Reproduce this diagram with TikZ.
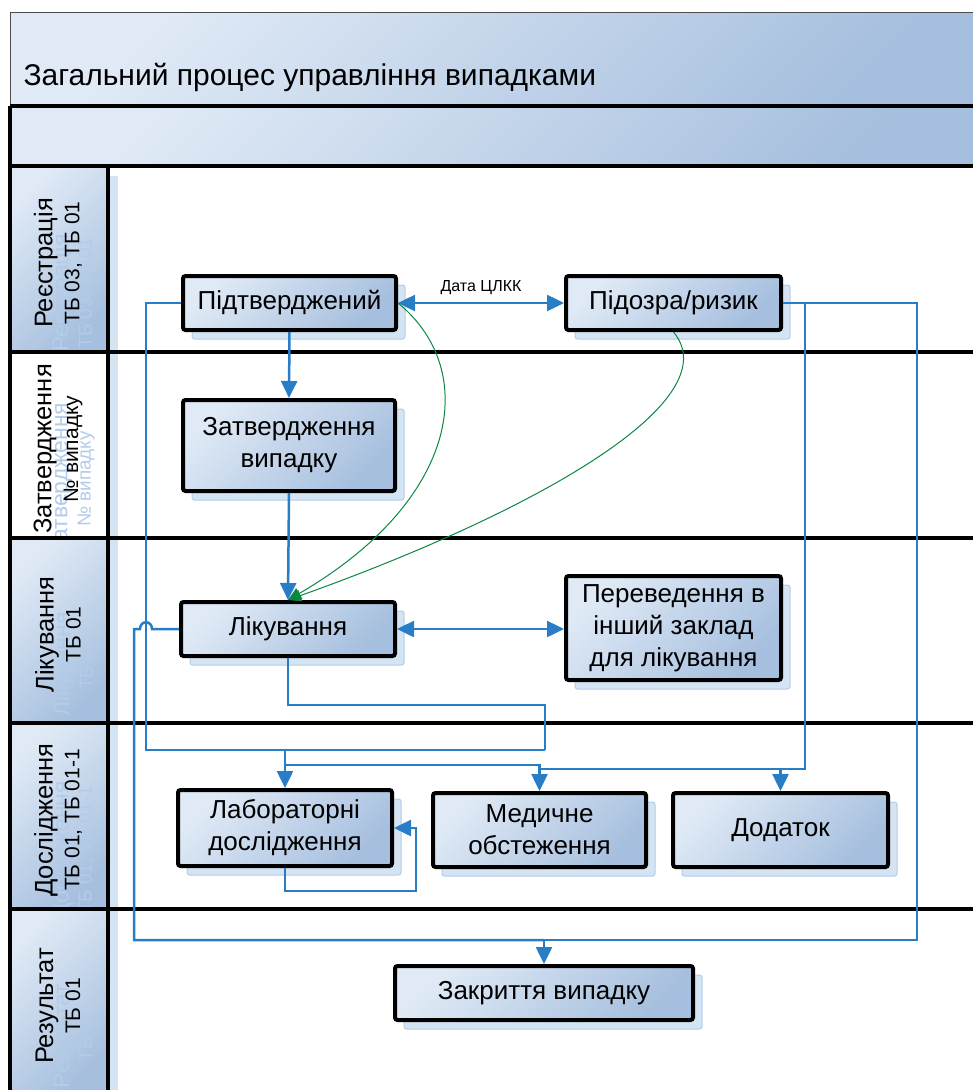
\documentclass[tikz,border=0pt]{standalone}
\usepackage{fontspec}
\setmainfont{Liberation Sans}
\usetikzlibrary{arrows.meta}
\usetikzlibrary{shadows}

\definecolor{flowblue}{RGB}{40,125,198}
\definecolor{curvegreen}{RGB}{10,135,65}
\definecolor{boxlight}{RGB}{224,234,246}
\definecolor{boxdark}{RGB}{166,191,222}
\definecolor{shadowblue}{RGB}{212,228,243}
\definecolor{ghostblue}{RGB}{178,204,234}

\tikzset{gradfill/.style={top color=boxlight,bottom color=boxdark,shading angle=45}}
\tikzset{whitefill/.style={fill=white}}
\tikzset{laneline/.style={draw=black,line width=4pt}}
\tikzset{procbox/.style={gradfill,draw=black,line width=4pt,rounded corners=2.5pt,
                         align=center,inner sep=0pt,font=\boxfont,
                         drop shadow={shadow xshift=9pt,shadow yshift=-9pt,
                                      fill=shadowblue,draw=ghostblue,line width=1pt,opacity=1}}}
\tikzset{lanetext/.style={rotate=90,align=center,inner sep=0pt}}
\tikzset{flow/.style={draw=flowblue,line width=2.5pt,>={Triangle[length=17pt,width=16pt]}}}
\tikzset{hint/.style={draw=curvegreen,line width=1pt,>={Triangle[length=13pt,width=12pt]},
                      color=curvegreen}}
\newcommand{\boxfont}{\fontsize{26}{32}\selectfont}
\newcommand{\bigfont}{\fontsize{25.5}{27}\selectfont}
\newcommand{\smallfont}{\fontsize{21}{23}\selectfont}

\begin{document}
\begin{tikzpicture}[x=1pt,y=-1pt]
    \useasboundingbox (0,0) rectangle (973,1090);

    % title bands
    \shade[gradfill,draw=black!70,line width=0.8pt] (10,12) rectangle (995,105);
    \node[anchor=base west,font=\fontsize{30}{32}\selectfont] (title) at (20,85)
        {Загальний процес управління випадками};
    \shade[gradfill] (10,106) rectangle (995,166);

    % lanes
    \foreach \ytop/\ybot/\main/\sub/\col [count=\i] in
        {166/352/Реєстрація/{ТБ 03, ТБ 01}/gradfill,
         352/538/Затвердження/{№ випадку}/whitefill,
         538/723/Лікування/{ТБ 01}/gradfill,
         723/909/Дослідження/{ТБ 01, ТБ 01-1}/gradfill,
         909/1095/Результат/{ТБ 01}/gradfill}{
        \fill[shadowblue] (20,\ytop+10) rectangle (118,\ybot+10);
        \path[\col] (10,\ytop) rectangle (108,\ybot);
        \begin{scope}
            \clip (10,\ytop) rectangle (108,\ybot);
            \node[lanetext,ghostblue,scale=0.9] (ghost\i) at (73,{(\ytop+\ybot)/2+34})
                {{\bigfont \main}\\[5pt]{\smallfont \sub}};
        \end{scope}
        \node[lanetext] (lane\i) at (58,{(\ytop+\ybot)/2+4})
            {{\bigfont \main}\\[6pt]{\smallfont \sub}};
    }
    \foreach \y in {106,166,352,538,723,909}{
        \draw[laneline] (10,\y) -- (995,\y);
    }
    \draw[laneline] (10,106) -- (10,1095);
    \draw[laneline] (108,166) -- (108,1095);

    % process boxes
    \node[procbox,minimum width=213pt,minimum height=54pt] (pid) at (289.5,303) {Підтверджений};
    \node[procbox,minimum width=215pt,minimum height=54pt] (susp) at (673.5,303) {Підозра/ризик};
    \node[procbox,minimum width=212pt,minimum height=91pt] (appr) at (289,445.5) {Затвердження\\випадку};
    \node[procbox,minimum width=214pt,minimum height=54pt] (treat) at (288,629) {Лікування};
    \node[procbox,minimum width=215pt,minimum height=104pt] (transf) at (673.5,628)
        {Переведення в\\інший заклад\\для лікування};
    \node[procbox,minimum width=214pt,minimum height=76pt] (lab) at (285,828) {Лабораторні\\дослідження};
    \node[procbox,minimum width=213pt,minimum height=74pt] (med) at (539.5,830) {Медичне\\обстеження};
    \node[procbox,minimum width=215pt,minimum height=74pt] (add) at (780.5,830) {Додаток};
    \node[procbox,minimum width=298pt,minimum height=54pt] (close) at (544,993) {Закриття випадку};

    % turning points
    \coordinate (loopL) at (146,750);
    \coordinate (loopR) at (545,750);
    \coordinate (treatTurn) at (545,705);
    \coordinate (medRow) at (0,765);
    \coordinate (suspDrop) at (805,769);
    \coordinate (closeRow) at (917,940);
    \coordinate (labLoop) at (416,891);

    % connectors
    \draw[flow,<->] (pid.east) -- (susp.west);
    \node[font=\fontsize{16}{18}\selectfont] (cdate) at (481,288) {Дата ЦЛКК};
    \draw[flow,->] (pid.south) -- (appr.north);
    \draw[flow,->] (appr.south) -- (treat.north);
    \draw[flow,<->] (treat.east) -- (treat.east -| transf.west);
    \draw[flow] (pid.west) -| (loopL) -- (loopR);
    \draw[flow] (treat.south) |- (treatTurn) -- (loopR);
    \draw[flow,->] (lab.north |- loopL) -- (lab.north);
    \draw[flow,->] (lab.north |- medRow) -| (med.north);
    \draw[flow] (susp.east) -| (suspDrop) -- (suspDrop -| med.north);
    \draw[flow,->] (suspDrop -| add.north) -- (add.north);
    \draw[flow,->] (susp.east) -| (closeRow) -| (close.north);
    \draw[flow] (treat.west) -- (152,629) .. controls (152,620) and (140,620) .. (140,629)
        -- (134,629) |- (closeRow -| close.north);
    \draw[flow,->] (lab.south) |- (labLoop) |- (lab.east);

    % green hints
    \draw[hint,->] (pid.east) .. controls (480,370) and (460,500) .. (treat.north);
    \draw[hint,->] (susp.south) .. controls (730,400) and (540,510) .. (treat.north);
\end{tikzpicture}
\end{document}
